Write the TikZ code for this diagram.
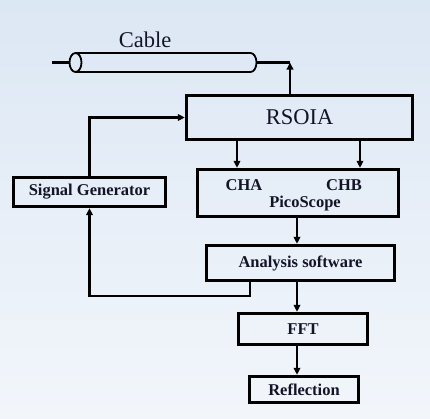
\documentclass[tikz,border=0pt]{standalone}
\usepackage{fontspec}
\setmainfont{Liberation Serif}
\usetikzlibrary{arrows.meta}
\definecolor{bgtop}{RGB}{220,231,244}
\definecolor{bgbot}{RGB}{242,246,251}
\definecolor{ink}{RGB}{20,20,40}

\begin{document}
\begin{tikzpicture}[x=1pt, y=-1pt,
    block/.style={draw, line width=3.3pt, inner sep=0pt, text=ink,
      font=\fontsize{16.5}{18}\selectfont\bfseries},
    lbl/.style={inner sep=0pt, text=ink, font=\fontsize{16.5}{18}\selectfont\bfseries},
    big/.style={inner sep=0pt, text=ink, font=\fontsize{22.5}{24}\selectfont},
    wire/.style={line width=2.2pt},
    arr/.style={line width=2.2pt, -{Triangle[length=7pt,width=6.5pt]}}]
  \shade[top color=bgtop, bottom color=bgbot] (0,0) rectangle (430,418);
  \useasboundingbox (0,0) rectangle (430,418);

  % cable
  \draw[line width=1.8pt] (75.5,53) -- (250.5,53)
    arc[start angle=-90, end angle=90, x radius=6, y radius=9.5] -- (75.5,72);
  \draw[line width=1.8pt] (75.5,62.5) ellipse [x radius=6, y radius=9.5];
  \coordinate (cablew) at (69.5,62.5);
  \coordinate (cablee) at (256.5,62.5);
  \node[big] (cablelbl) at (145,40) {Cable};

  % blocks
  \node[block, minimum width=226pt, minimum height=44pt,
    font=\fontsize{22.5}{24}\selectfont] (rsoia) at (299.5,117.5) {RSOIA};
  \node[block, minimum width=201pt, minimum height=47pt] (pico) at (298,193) {};
  \node[lbl, anchor=base] (cha) at (244,190) {CHA};
  \node[lbl, anchor=base] (chb) at (344,190) {CHB};
  \node[lbl, anchor=base] (picolbl) at (305,207) {PicoScope};
  \node[block, minimum width=152pt, minimum height=29pt] (sig) at (89.5,192) {Signal Generator};
  \node[block, minimum width=188pt, minimum height=35pt] (ana) at (300.5,263) {Analysis software};
  \node[block, minimum width=129pt, minimum height=31pt] (fft) at (303,329) {FFT};
  \node[block, minimum width=109pt, minimum height=26pt] (refl) at (304,389.5) {Reflection};

  \coordinate (lead) at (52,62.5);
  \coordinate (tap) at (290,62.5);
  \coordinate (chA) at (237,0);
  \coordinate (chB) at (360,0);
  \coordinate (spine) at (297,0);
  \coordinate (fb) at (250,296);

  % connections
  \draw[wire] (lead) -- (cablew);
  \draw[wire] (cablee) -- (tap);
  \draw[arr] (rsoia.north -| tap) -- (tap);
  \draw[arr] (sig.north) |- (rsoia.west);
  \draw[arr] (rsoia.south -| chA) -- (pico.north -| chA);
  \draw[arr] (rsoia.south -| chB) -- (pico.north -| chB);
  \draw[arr] (pico.south -| spine) -- (ana.north -| spine);
  \draw[arr] (ana.south -| spine) -- (fft.north -| spine);
  \draw[arr] (fft.south -| spine) -- (refl.north -| spine);
  \draw[arr] (ana.south -| fb) -- (fb) -| (sig.south);
\end{tikzpicture}
\end{document}
